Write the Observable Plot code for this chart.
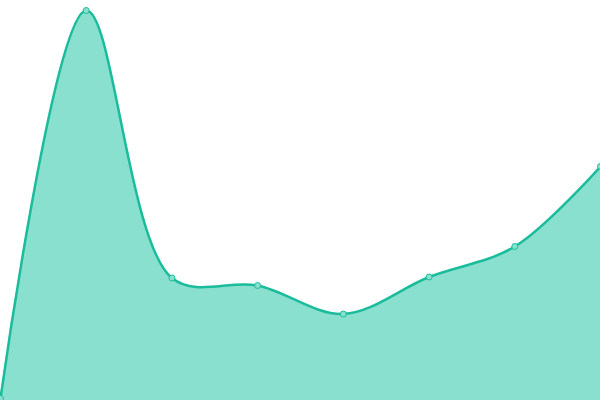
<!DOCTYPE html>
<html>
<head>
<meta charset="utf-8">
<script src="https://cdn.jsdelivr.net/npm/d3@7"></script>
<script src="https://cdn.jsdelivr.net/npm/@observablehq/plot@0.6"></script>
<style>
html, body { margin: 0; padding: 0; background: #fff; }
#chart svg { display: block; }
</style>
</head>
<body>
<div id="chart"></div>
<script>
const xs = [0, 1, 2, 3, 4, 5, 6, 7];
const values = [2, 390, 122.5, 115, 86.5, 123.5, 154, 234];
const data = xs.map((x, i) => ({x, y: values[i]}));

const chart = Plot.plot({
  width: 600,
  height: 400,
  margin: 0,
  x: {domain: [0, 7], axis: null},
  y: {domain: [0, 400], axis: null},
  marks: [
    Plot.areaY(data, {x: "x", y: "y", curve: "catmull-rom", fill: "#8ae0cf"}),
    Plot.lineY(data, {x: "x", y: "y", curve: "catmull-rom", stroke: "#1abc9c", strokeWidth: 2.5}),
    Plot.dot(data, {x: "x", y: "y", r: 3, fill: "#8ae0cf", stroke: "#1abc9c", strokeWidth: 1})
  ]
});
document.getElementById("chart").appendChild(chart);
</script>
</body>
</html>
